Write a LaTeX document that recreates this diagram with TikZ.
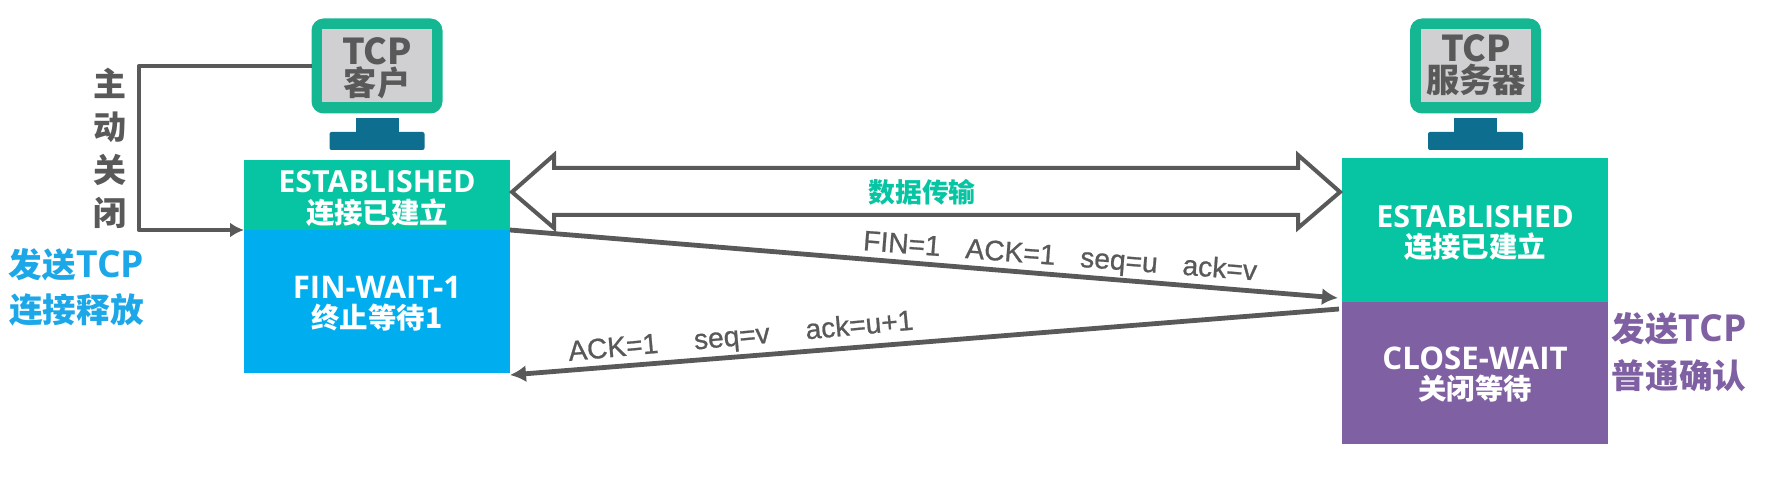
\documentclass[tikz,border=0pt]{standalone}
\usepackage{fontspec}
\setmainfont{Open Sans}
\newfontfamily\cjk{Noto Sans CJK SC}
\newfontfamily\msgfont[FakeBold=0.8]{Liberation Sans}
\usetikzlibrary{arrows.meta,calc}
\definecolor{estgreen}{HTML}{07C5A2}
\definecolor{finblue}{HTML}{00AEEF}
\definecolor{closepurple}{HTML}{7F60A2}
\definecolor{monedge}{HTML}{14B792}
\definecolor{monscreen}{HTML}{D0D0D2}
\definecolor{monstand}{HTML}{0E6E8F}
\definecolor{linegray}{HTML}{595959}
\definecolor{sendblue}{HTML}{1CA7E8}
\newcommand{\fsz}[1]{\fontsize{#1}{#1}\selectfont}
\newcommand{\bigtcp}{{\fsz{18.6}TCP}}
\newcommand{\montcp}{{\fsz{17.8}\bfseries TCP}}
\tikzset{
  x=0.5pt,y=-0.5pt,
  plain/.style={inner sep=0pt,outer sep=0pt,anchor=center},
  statebox/.style={plain,anchor=north west},
  statelatin/.style={plain,text=white,font=\fsz{15.6}\bfseries},
  statecjk/.style={plain,text=white,font=\fsz{14.2}\cjk\bfseries},
  montext/.style={plain,text=linegray,align=center,font=\fsz{16.6}\cjk\bfseries},
  sidecjk/.style={plain,text=linegray,font=\fsz{16.5}\cjk\bfseries},
  sendlabel/.style={plain,font=\fsz{16.8}\bfseries},
  msg/.style={plain,text=linegray,font=\fsz{14.1}\msgfont},
  link/.style={draw=linegray,line width=2.2pt,line join=round},
  msgline/.style={draw=linegray,line width=2.4pt,-{Latex[length=8pt,width=8.5pt]}},
}
\newcommand{\monitor}[2]{% name, centre x
  \node[plain,fill=monstand,minimum width=21.5pt,minimum height=7pt] (#1stand) at (#2,125.5) {};
  \node[plain,fill=monstand,rounded corners=1pt,minimum width=47.5pt,minimum height=9pt] (#1base) at (#2,141) {};
  \node[plain,fill=monedge,rounded corners=6pt,minimum width=65.5pt,minimum height=47.5pt] (#1) at (#2,66) {};
  \node[plain,fill=monscreen,minimum width=55pt,minimum height=36.5pt] (#1screen) at (#2,65.5) {};
}
\begin{document}
\begin{tikzpicture}
\useasboundingbox (0,0) rectangle (1772,480);
\fill[white] (0,0) rectangle (1772,480);

% monitors
\monitor{client}{377}
\monitor{server}{1475.5}
\node[montext] (clientT) at (377,68) {\montcp\\[-1.2pt]客户};
\node[montext] (serverT) at (1476,65) {\montcp\\[-1.2pt]服务器};

% state boxes
\node[statebox,fill=estgreen,minimum width=133pt,minimum height=35pt] (estL) at (244,160) {};
\node[statebox,fill=finblue,minimum width=133pt,minimum height=71.5pt] (finL) at (244,230) {};
\node[statebox,fill=estgreen,minimum width=133pt,minimum height=72pt] (estR) at (1342,158) {};
\node[statebox,fill=closepurple,minimum width=133pt,minimum height=71pt] (closeR) at (1342,302) {};

\node[statelatin,font=\fsz{15.2}\bfseries] (estLa) at (377,182) {ESTABLISHED};
\node[statecjk] (estLb) at (377,213) {连接已建立};
\node[statelatin] (finLa) at (377,287) {FIN-WAIT-1};
\node[statecjk] (finLb) at (377,318) {终止等待1};
\node[statelatin,font=\fsz{15.2}\bfseries] (estRa) at (1475,217) {ESTABLISHED};
\node[statecjk] (estRb) at (1475,247) {连接已建立};
\node[statelatin] (closeRa) at (1475,358) {CLOSE-WAIT};
\node[statecjk] (closeRb) at (1475,389) {关闭等待};

% active close
\coordinate (bendTop) at (139,66);
\draw[link,-{Latex[length=7pt,width=7.5pt]}] (client.west) -- (bendTop) |- (estL.south west);
\node[sidecjk] (c1) at (110,83) {主};
\node[sidecjk] (c2) at (110,127) {动};
\node[sidecjk] (c3) at (110,170) {关};
\node[sidecjk] (c4) at (110,213) {闭};

% side labels
\node[sendlabel,text=sendblue] (sendA) at (76.5,265) {{\cjk 发送}\bigtcp};
\node[sendlabel,text=sendblue] (sendB) at (76.5,310) {{\cjk 连接释放}};
\node[sendlabel,text=closepurple] (ackA) at (1679,329) {{\cjk 发送}\bigtcp};
\node[sendlabel,text=closepurple] (ackB) at (1679,376) {{\cjk 普通确认}};

% data transfer
\coordinate (tipL) at (512,192);
\coordinate (tipR) at (1340,192);
\draw[draw=linegray,line width=2pt,line join=miter,miter limit=6]
  (tipL) -- (554,155) -- (554,168) -- (1298,168) -- (1298,155) -- (tipR)
  -- (1298,228) -- (1298,215) -- (554,215) -- (554,228) -- cycle;
\node[plain,text=estgreen,font=\fsz{13.4}\cjk\bfseries] (transferT) at (922,192) {数据传输};

% messages
\draw[msgline] (estL.south east) -- ($(estR.south west)+(-4,-4)$);
\draw[msgline] ($(closeR.north west)+(-3,7)$) -- ($(finL.south east)+(0,2)$);
\node[msg,rotate=-4.4] (finMsg) at (1060,258) {FIN=1\hspace{12.5pt}ACK=1\hspace{12.5pt}seq=u\hspace{12.5pt}ack=v};
\node[msg,rotate=5.2] (ackMsg) at (741,338) {ACK=1\hspace{18pt}seq=v\hspace{18pt}ack=u+1};
\end{tikzpicture}
\end{document}
